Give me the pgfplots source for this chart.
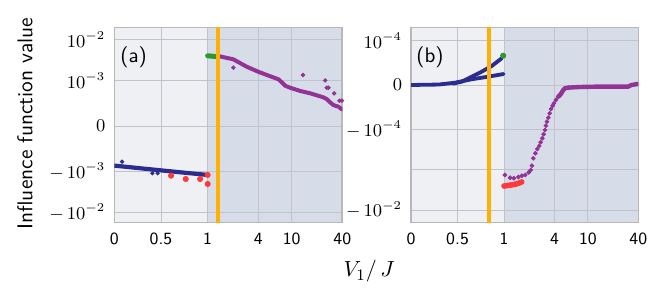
\documentclass[border=0pt]{standalone}
\usepackage{pgfplots}
\usepackage{pgfplotstable}
\pgfplotsset{compat=1.18}
\definecolor{bgL}{HTML}{EEF0F3}
\definecolor{bgR}{HTML}{D6DDE8}
\definecolor{cblue}{HTML}{2B2C8F}
\definecolor{cpurple}{HTML}{933396}
\definecolor{cred}{HTML}{FF3838}
\definecolor{cgreen}{HTML}{2E9A2E}
\definecolor{corange}{HTML}{FFB000}
\definecolor{framec}{HTML}{B8B8B8}
\definecolor{gridc}{HTML}{C0C4CA}

% symmetric log (base 10, linscale 1): value #1, threshold #2
\newcommand\SL[2]{(((#1)>(#2)) ? (1.11111+ln(abs(#1)/(#2)+1e-30)/ln(10)) : (((#1)<(-(#2))) ? (-1.11111-ln(abs(#1)/(#2)+1e-30)/ln(10)) : (1.11111*(#1)/(#2))))}

% ---------------- data, panel (a)
\pgfplotstableread{
x y
0 -0.870e-3
0.25 -0.922e-3
0.5 -0.974e-3
0.75 -1.066e-3
0.99 -1.205e-3
}\aBlue
\pgfplotstableread{
x y
0.083 -0.784e-3
0.407 -1.10e-3
0.465 -1.10e-3
}\aBluePts
\pgfplotstableread{
x y
0.608 -1.26e-3
0.765 -1.52e-3
0.919 -1.52e-3
1.0 -1.21e-3
1.0 -2.01e-3
}\aRed
\pgfplotstableread{
x y
1.0 4.0e-3
1.15 3.9e-3
1.32 3.8e-3
}\aGreen
\pgfplotstableread{
x y
1.34 3.95e-3
1.47 3.79e-3
2.02 3.28e-3
2.92 2.16e-3
4.01 1.63e-3
5.06 1.36e-3
6.95 1.07e-3
7.62 0.96e-3
8.35 0.885e-3
9.6 0.84e-3
12.6 0.77e-3
16.6 0.718e-3
23.8 0.63e-3
26.2 0.59e-3
28.1 0.533e-3
31.4 0.46e-3
36.0 0.424e-3
39.5 0.367e-3
}\aPurple
\pgfplotstableread{
x y
2.02 2.05e-3
13.6 1.36e-3
25.0 1.0e-3
26.2 0.84e-3
27.4 0.84e-3
32.0 0.718e-3
37.0 0.556e-3
39.5 0.556e-3
}\aPurplePts
\pgfplotstableread{
x y
1.34 -1
1.34 1
}\aOrange

% ---------------- data, panel (b)
\pgfplotstableread{
x y
0.005 0
0.3 1e-6
0.473 5.2e-6
0.652 1.28e-5
0.830 1.86e-5
0.995 2.46e-5
}\bBlueLow
\pgfplotstableread{
x y
0.45 3e-6
0.545 7.4e-6
0.652 1.86e-5
0.759 2.98e-5
0.867 4.25e-5
0.975 5.98e-5
}\bBlueUp
\pgfplotstableread{
x y
0.99 6.56e-5
}\bGreen
\pgfplotstableread{
x y
1.0 -2.52e-3
1.05 -2.48e-3
1.1 -2.45e-3
1.15 -2.42e-3
1.21 -2.38e-3
1.27 -2.34e-3
1.33 -2.30e-3
1.39 -2.25e-3
1.45 -2.19e-3
1.52 -2.12e-3
1.57 -2.06e-3
1.62 -2.0e-3
}\bRed
\pgfplotstableread{
x y
1.02 -1.34e-3
1.18 -1.57e-3
1.31 -1.62e-3
1.48 -1.51e-3
1.63 -1.40e-3
1.79 -1.34e-3
1.97 -1.15e-3
2.08 -1.01e-3
2.15 -7.87e-4
2.23 -5.15e-4
2.36 -3.87e-4
2.49 -3.03e-4
2.63 -2.55e-4
2.73 -2.06e-4
2.86 -1.64e-4
2.97 -1.30e-4
3.08 -1.02e-4
3.16 -0.911e-4
3.25 -0.822e-4
3.37 -0.732e-4
3.50 -0.634e-4
3.63 -0.537e-4
3.80 -0.464e-4
3.94 -0.410e-4
4.16 -0.336e-4
4.43 -0.262e-4
4.73 -0.208e-4
5.09 -0.112e-4
5.33 -0.074e-4
5.84 -0.060e-4
}\bPurplePts
\pgfplotstableread{
x y
4.43 -0.262e-4
4.73 -0.208e-4
5.09 -0.112e-4
5.33 -0.074e-4
5.84 -0.060e-4
6.41 -0.055e-4
8.0 -0.045e-4
12.2 -0.038e-4
20.0 -0.035e-4
30.3 -0.038e-4
31.5 -0.02e-4
33.3 0
39.5 0.022e-4
}\bPurple
\pgfplotstableread{
x y
0.842 -1
0.842 1
}\bOrange

\pgfplotsset{
  panel/.style={
    set layers,
    scale only axis, width=114pt, height=97.5pt,
    anchor=south west,
    axis background/.style={fill=bgL},
    axis line style={draw=framec, line width=0.8pt},
    grid=major, major grid style={draw=gridc, line width=0.45pt},
    major tick length=0pt, tick style={draw=none},
    xmin=0, xmax=2.71317,
    xtick={0,0.55556,1.11111,1.71317,2.11111,2.71317},
    xticklabels={0,0.5,1,4,10,40},
    xticklabel style={font=\sffamily\fontsize{8.6}{10}\selectfont, inner sep=0pt, yshift=-5pt},
    yticklabel style={font=\fontsize{8.8}{10}\selectfont, inner sep=0pt, xshift=-4.3pt},
    clip=true,
  },
  pts/.style={only marks, mark=*, mark size=#1},
  band/.style={no marks, line width=#1, line cap=round, line join=round},
}

\begin{document}
\begin{tikzpicture}[x=1pt,y=1pt]

% ---------------- panel (a)
\begin{axis}[panel, at={(57.15pt,38.15pt)},
  ymin=-2.359, ymax=2.399,
  ytick={-2.11111,-1.11111,0,1.11111,2.11111},
  yticklabels={{$-\,10^{-2}$},{$-\,10^{-3}$},{$0$},{$10^{-3}$},{$10^{-2}$}},
]
\addplot[fill=bgR, draw=none, on layer=axis background, forget plot] coordinates {(1.11111,-2.359) (2.71317,-2.359) (2.71317,2.399) (1.11111,2.399)} -- cycle;
\addplot[band=2.1pt, cblue] table[x expr={\SL{\thisrow{x}}{1}}, y expr={\SL{\thisrow{y}}{0.001}}] {\aBlue};
\addplot[pts=0.85pt, cblue] table[x expr={\SL{\thisrow{x}}{1}}, y expr={\SL{\thisrow{y}}{0.001}}] {\aBluePts};
\addplot[pts=1.3pt, cred] table[x expr={\SL{\thisrow{x}}{1}}, y expr={\SL{\thisrow{y}}{0.001}}] {\aRed};
\addplot[band=2.5pt, cgreen] table[x expr={\SL{\thisrow{x}}{1}}, y expr={\SL{\thisrow{y}}{0.001}}] {\aGreen};
\addplot[band=2pt, cpurple] table[x expr={\SL{\thisrow{x}}{1}}, y expr={\SL{\thisrow{y}}{0.001}}] {\aPurple};
\addplot[pts=0.9pt, cpurple] table[x expr={\SL{\thisrow{x}}{1}}, y expr={\SL{\thisrow{y}}{0.001}}] {\aPurplePts};
\addplot[corange, line width=2pt] table[x expr={\SL{\thisrow{x}}{1}}, y expr={\SL{\thisrow{y}}{0.001}}] {\aOrange};
\node[anchor=west, font=\sffamily\fontsize{10.5}{12}\selectfont, inner sep=0pt] at (rel axis cs:0.025,0.848) {(a)};
\end{axis}

% ---------------- panel (b)
\begin{axis}[panel, at={(205.5pt,38.15pt)}, width=113.65pt,
  ymin=-3.425, ymax=1.425,
  ytick={-3.11111,-2.11111,-1.11111,0,1.11111},
  yticklabels={{$-\,10^{-2}$},{},{$-\,10^{-4}$},{$0$},{$10^{-4}$}},
]
\addplot[fill=bgR, draw=none, on layer=axis background, forget plot] coordinates {(1.11111,-3.425) (2.71317,-3.425) (2.71317,1.425) (1.11111,1.425)} -- cycle;
\addplot[band=1.9pt, cblue] table[x expr={\SL{\thisrow{x}}{1}}, y expr={\SL{\thisrow{y}}{0.0001}}] {\bBlueLow};
\addplot[band=1.9pt, cblue] table[x expr={\SL{\thisrow{x}}{1}}, y expr={\SL{\thisrow{y}}{0.0001}}] {\bBlueUp};
\addplot[pts=1.3pt, cgreen] table[x expr={\SL{\thisrow{x}}{1}}, y expr={\SL{\thisrow{y}}{0.0001}}] {\bGreen};
\addplot[band=1.8pt, cred] table[x expr={\SL{\thisrow{x}}{1}}, y expr={\SL{\thisrow{y}}{0.0001}}] {\bRed};
\addplot[pts=1.2pt, cred] table[x expr={\SL{\thisrow{x}}{1}}, y expr={\SL{\thisrow{y}}{0.0001}}] {\bRed};
\addplot[pts=0.95pt, cpurple] table[x expr={\SL{\thisrow{x}}{1}}, y expr={\SL{\thisrow{y}}{0.0001}}] {\bPurplePts};
\addplot[band=2.2pt, cpurple] table[x expr={\SL{\thisrow{x}}{1}}, y expr={\SL{\thisrow{y}}{0.0001}}] {\bPurple};
\addplot[corange, line width=2pt] table[x expr={\SL{\thisrow{x}}{1}}, y expr={\SL{\thisrow{y}}{0.0001}}] {\bOrange};
\node[anchor=west, font=\sffamily\fontsize{10.5}{12}\selectfont, inner sep=0pt] at (rel axis cs:0.022,0.848) {(b)};
\end{axis}

\node[rotate=90, font=\sffamily\fontsize{10.7}{12}\selectfont, inner sep=0pt] at (12.5,87.75) {Influence function value};
\node[anchor=base, font=\fontsize{11}{13}\selectfont, inner sep=0pt] at (184.6,11) {$V_1/\,J$};
\pgfresetboundingbox
\path[use as bounding box] (0,0) rectangle (332.5,149.5);
\end{tikzpicture}
\end{document}
